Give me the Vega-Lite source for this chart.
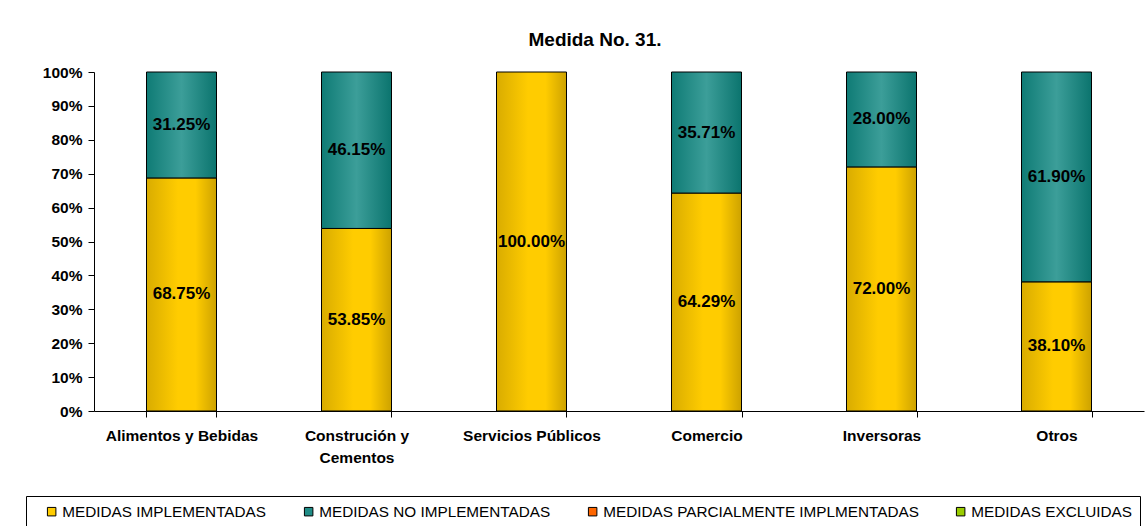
{
  "$schema": "https://vega.github.io/schema/vega-lite/v6.json",
  "width": 1050,
  "height": 339,
  "autosize": {"type": "none"},
  "padding": {"left": 94, "top": 72, "right": 3, "bottom": 115},
  "background": "white",
  "config": {"view": {"stroke": null}, "font": "Liberation Sans"},
  "title": {"text": "Medida No. 31.", "fontSize": 19, "fontWeight": "bold", "color": "black", "font": "Liberation Sans", "anchor": "middle", "dx": -24, "dy": 24, "offset": 20, "baseline": "bottom"},
  "data": {"values": [
    {"cat": "Alimentos y Bebidas", "series": "MEDIDAS IMPLEMENTADAS", "value": 0.6875},
    {"cat": "Alimentos y Bebidas", "series": "MEDIDAS NO IMPLEMENTADAS", "value": 0.3125},
    {"cat": "Construción y Cementos", "series": "MEDIDAS IMPLEMENTADAS", "value": 0.5385},
    {"cat": "Construción y Cementos", "series": "MEDIDAS NO IMPLEMENTADAS", "value": 0.4615},
    {"cat": "Servicios Públicos", "series": "MEDIDAS IMPLEMENTADAS", "value": 1.0},
    {"cat": "Comercio", "series": "MEDIDAS IMPLEMENTADAS", "value": 0.6429},
    {"cat": "Comercio", "series": "MEDIDAS NO IMPLEMENTADAS", "value": 0.3571},
    {"cat": "Inversoras", "series": "MEDIDAS IMPLEMENTADAS", "value": 0.72},
    {"cat": "Inversoras", "series": "MEDIDAS NO IMPLEMENTADAS", "value": 0.28},
    {"cat": "Otros", "series": "MEDIDAS IMPLEMENTADAS", "value": 0.381},
    {"cat": "Otros", "series": "MEDIDAS NO IMPLEMENTADAS", "value": 0.619}
  ]},
  "transform": [
    {"stack": "value", "groupby": ["cat"], "sort": [{"field": "series", "order": "ascending"}], "as": ["v0", "v1"]},
    {"calculate": "(datum.v0 + datum.v1) / 2", "as": "mid"}
  ],
  "encoding": {
    "x": {
      "field": "cat", "type": "nominal", "sort": null,
      "scale": {"paddingInner": 0.6, "paddingOuter": 0.3},
      "axis": {
        "title": null, "labelAngle": 0, "labelFontWeight": "bold", "labelFontSize": 15.5, "labelColor": "black",
        "labelFont": "Liberation Sans", "labelPadding": 11, "labelLineHeight": 22,
        "labelExpr": "datum.label == 'Construción y Cementos' ? ['Construción y', 'Cementos'] : datum.label",
        "tickBand": "extent", "tickSize": 6, "tickColor": "black", "domainColor": "black", "labelBound": false
      }
    }
  },
  "layer": [
    {
      "mark": {"type": "bar"},
      "encoding": {
        "y": {"field": "v1", "type": "quantitative", "scale": {"domain": [0, 1]},
          "axis": {"title": null, "format": ".0%", "values": [0, 0.1, 0.2, 0.3, 0.4, 0.5, 0.6, 0.7, 0.8, 0.9, 1.0],
            "labelOverlap": false, "labelFontWeight": "bold", "labelFontSize": 15.5, "labelColor": "black", "labelFont": "Liberation Sans",
            "labelPadding": 6, "tickSize": 6, "tickColor": "black", "domainColor": "black", "grid": false}},
        "y2": {"field": "v0"},
        "fill": {"field": "series", "type": "nominal",
          "scale": {"domain": ["MEDIDAS IMPLEMENTADAS", "MEDIDAS NO IMPLEMENTADAS", "MEDIDAS PARCIALMENTE IMPLMENTADAS", "MEDIDAS EXCLUIDAS"],
                    "range": ["#FFCC00", "#1F8C86", "#FF6600", "#99CC00"]},
          "legend": {"title": null, "orient": "none", "legendX": -68, "legendY": 424, "direction": "horizontal", "columns": 4,
            "strokeColor": "black", "padding": 8, "symbolType": "square", "symbolSize": 72, "symbolStrokeColor": "black",
            "symbolStrokeWidth": 1, "symbolOffset": 10, "labelFontSize": 15.3, "labelFont": "Liberation Sans", "labelColor": "black",
            "labelOffset": 3, "columnPadding": 24, "labelLimit": 0}}
      }
    },
    {
      "mark": {"type": "bar", "stroke": "black", "strokeWidth": 1},
      "encoding": {
        "y": {"field": "v1", "type": "quantitative",
          "axis": {"title": null, "format": ".0%", "values": [0, 0.1, 0.2, 0.3, 0.4, 0.5, 0.6, 0.7, 0.8, 0.9, 1.0],
            "labelOverlap": false, "labelFontWeight": "bold", "labelFontSize": 15.5, "labelColor": "black", "labelFont": "Liberation Sans",
            "labelPadding": 6, "tickSize": 6, "tickColor": "black", "domainColor": "black", "grid": false}},
        "y2": {"field": "v0"},
        "fill": {
          "condition": {"test": "datum.series == 'MEDIDAS IMPLEMENTADAS'",
            "value": {"gradient": "linear", "x1": 0, "x2": 1, "y1": 0, "y2": 0,
              "stops": [{"offset": 0, "color": "#D9AC00"}, {"offset": 0.45, "color": "#FFCC00"}, {"offset": 0.7, "color": "#FFCC00"}, {"offset": 1, "color": "#CDA200"}]}},
          "value": {"gradient": "linear", "x1": 0, "x2": 1, "y1": 0, "y2": 0,
            "stops": [{"offset": 0, "color": "#0F7B75"}, {"offset": 0.5, "color": "#3C9E99"}, {"offset": 1, "color": "#0B746E"}]}
        }
      }
    },
    {
      "mark": {"type": "text", "fontWeight": "bold", "fontSize": 17, "color": "black", "font": "Liberation Sans", "baseline": "middle"},
      "encoding": {
        "y": {"field": "mid", "type": "quantitative",
          "axis": {"title": null, "format": ".0%", "values": [0, 0.1, 0.2, 0.3, 0.4, 0.5, 0.6, 0.7, 0.8, 0.9, 1.0],
            "labelOverlap": false, "labelFontWeight": "bold", "labelFontSize": 15.5, "labelColor": "black", "labelFont": "Liberation Sans",
            "labelPadding": 6, "tickSize": 6, "tickColor": "black", "domainColor": "black", "grid": false}},
        "text": {"field": "value", "type": "quantitative", "format": ".2%"}
      }
    }
  ]
}
